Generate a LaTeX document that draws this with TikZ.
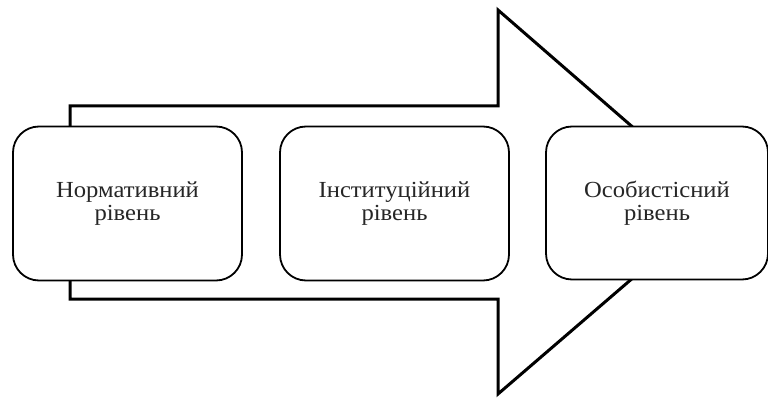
\documentclass[tikz,border=0pt]{standalone}
\usepackage{fontspec}
\setmainfont{Liberation Serif}
\newfontfamily\boxfont[FakeStretch=1.07]{Liberation Serif}
\begin{document}
\begin{tikzpicture}[x=1pt,y=-1pt,
  level/.style={draw=black, line width=1.8pt, fill=white, rounded corners=26pt, align=center, inner sep=0pt,
    font=\boxfont\fontsize{23}{23}\selectfont, text=black!85}]
\useasboundingbox (0,0) rectangle (768,398);
\draw[line width=3pt, fill=white, line join=miter]
  (70,106) -- (498,106) -- (498,10) -- (720,203) -- (498,394) -- (498,299) -- (70,299) -- cycle;
\node[level, minimum width=229pt, minimum height=154pt] (n1) at (127.5,203.5) {Нормативний\\рівень};
\node[level, minimum width=229pt, minimum height=154pt] (n2) at (394.5,203.5) {Інституційний\\рівень};
\node[level, minimum width=222pt, minimum height=153pt] (n3) at (657,203) {Особистісний\\рівень};
\end{tikzpicture}
\end{document}
